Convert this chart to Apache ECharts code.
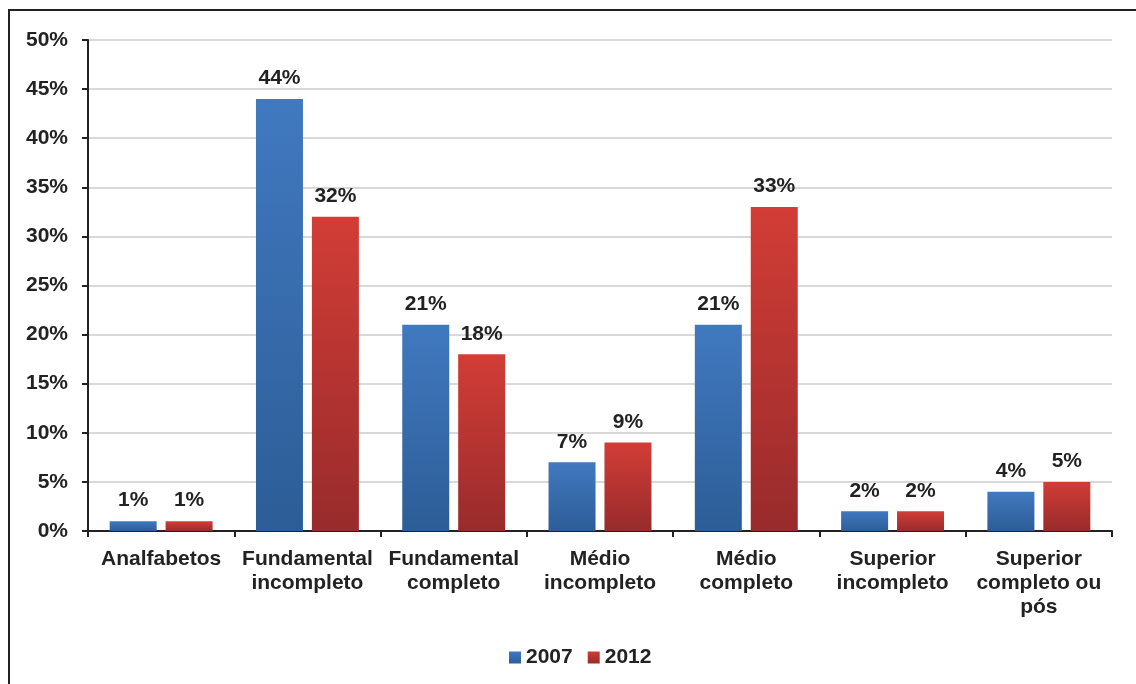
<!DOCTYPE html>
<html><head><meta charset="utf-8">
<style>html,body{margin:0;padding:0;background:#fff;}#c{width:1136px;height:684px;}</style>
<script src="https://cdn.jsdelivr.net/npm/echarts@6/dist/echarts.min.js"></script>
</head><body><div id="c"></div>
<script>
const categories = ['Analfabetos','Fundamental\nincompleto','Fundamental\ncompleto','Médio\nincompleto','Médio\ncompleto','Superior\nincompleto','Superior\ncompleto ou\npós'];
const seriesNames = ['2007','2012'];
const values2007 = [1,44,21,7,21,2,4];
const values2012 = [1,32,18,9,33,2,5];
const yTicks = {min:0, max:50, interval:5};

const chart = echarts.init(document.getElementById('c'));
const font = 'Liberation Sans, Arial, sans-serif';
function grad(top, bottom){
  return new echarts.graphic.LinearGradient(0,0,0,1,[{offset:0,color:top},{offset:1,color:bottom}]);
}
const blue = grad('#4179c0','#2c5d96');
const red = grad('#d23d36','#982b2c');
const labelStyle = {show:true, position:'top', distance:10, formatter:'{c}%', color:'#222', fontWeight:'bold', fontSize:21, fontFamily:font};
chart.setOption({
  animation:false,
  backgroundColor:'#fff',
  graphic:[{type:'rect', z:-10, shape:{x:9,y:10,width:1200,height:800}, style:{fill:'none', stroke:'#222', lineWidth:2}}],
  grid:{left:88, right:24, top:40, bottom:153, containLabel:false},
  legend:{bottom:11, left:504, itemWidth:12, itemHeight:12, itemGap:15,
    icon:'rect', textStyle:{color:'#222', fontWeight:'bold', fontSize:21, fontFamily:font}, data:seriesNames},
  xAxis:{type:'category', data:categories,
    axisLine:{lineStyle:{color:'#222', width:2}},
    axisTick:{show:true, length:6, lineStyle:{color:'#222', width:2}},
    axisLabel:{interval:0, margin:16, color:'#222', fontWeight:'bold', fontSize:21, lineHeight:24, fontFamily:font}},
  yAxis:{type:'value', min:yTicks.min, max:yTicks.max, interval:yTicks.interval,
    axisLine:{show:true, lineStyle:{color:'#222', width:2}},
    axisTick:{show:true, length:6, lineStyle:{color:'#222', width:2}},
    splitLine:{lineStyle:{color:'#d9d9d9', width:2}},
    axisLabel:{formatter:'{value}%', margin:20, color:'#222', fontWeight:'bold', fontSize:21, fontFamily:font}},
  series:[
    {name:seriesNames[0], type:'bar', data:values2007, barWidth:47, barGap:'19%', itemStyle:{color:blue}, label:labelStyle},
    {name:seriesNames[1], type:'bar', data:values2012, barWidth:47, itemStyle:{color:red}, label:labelStyle}
  ]
});
</script></body></html>
